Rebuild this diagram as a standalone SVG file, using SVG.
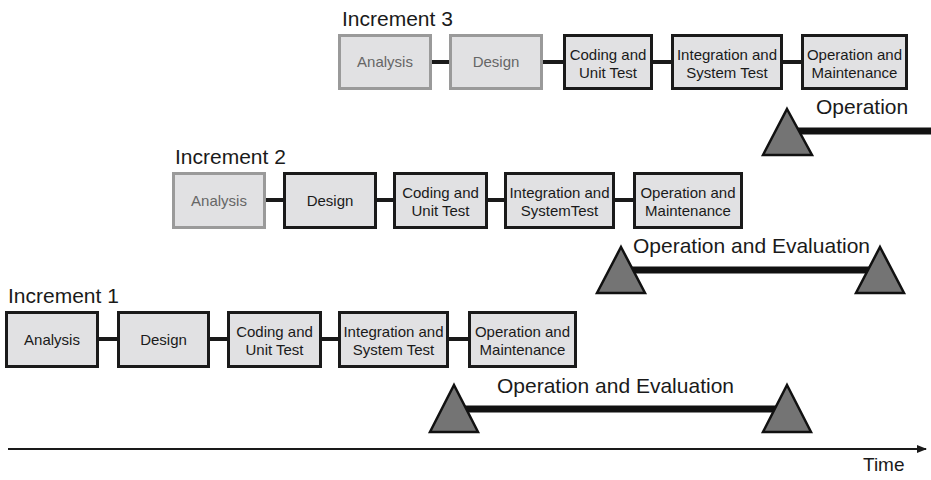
<svg xmlns="http://www.w3.org/2000/svg" width="931" height="480" viewBox="0 0 931 480">
<style>
text{font-family:"Liberation Sans",Arial,sans-serif;fill:#1a1a1a}
.lbl{font-size:21px}
.bt{font-size:15px;text-anchor:middle}
.box{fill:#e1e1e3;stroke:#1a1a1a;stroke-width:3}
.gbox{fill:#e1e1e3;stroke:#9a9a9a;stroke-width:3}
.gt{fill:#666}
.link{stroke:#1a1a1a;stroke-width:4}
.bar{stroke:#111;stroke-width:7}
.tri{fill:#747474;stroke:#111;stroke-width:2.5;stroke-linejoin:miter}
.axis{stroke:#1a1a1a;stroke-width:2}
</style>
<defs>
<marker id="arr" markerWidth="10" markerHeight="8" refX="9" refY="4" orient="auto" markerUnits="userSpaceOnUse">
<path d="M0,0 L10,4 L0,8 Z" fill="#1a1a1a"/>
</marker>
</defs>

<g id="connectors">
<line class="link" x1="432" y1="62" x2="449" y2="62"/>
<line class="link" x1="543" y1="62" x2="563" y2="62"/>
<line class="link" x1="653" y1="62" x2="671" y2="62"/>
<line class="link" x1="783" y1="62" x2="801" y2="62"/>
<line class="link" x1="266" y1="200" x2="283" y2="200"/>
<line class="link" x1="377" y1="200" x2="393" y2="200"/>
<line class="link" x1="488" y1="200" x2="504" y2="200"/>
<line class="link" x1="615" y1="200" x2="633" y2="200"/>
<line class="link" x1="99" y1="339" x2="117" y2="339"/>
<line class="link" x1="210" y1="339" x2="227" y2="339"/>
<line class="link" x1="322" y1="339" x2="338" y2="339"/>
<line class="link" x1="449" y1="339" x2="468" y2="339"/>
<line class="bar" x1="790" y1="131" x2="931" y2="131"/>
<line class="bar" x1="621" y1="270" x2="879" y2="270"/>
<line class="bar" x1="453" y1="409" x2="788" y2="409"/>
<line class="axis" x1="8" y1="449" x2="926" y2="449" marker-end="url(#arr)"/>
</g>

<g id="inc3">
<text class="lbl" x="342" y="26">Increment 3</text>
<g id="i3-analysis"><rect class="gbox" x="339.5" y="35.5" width="91" height="53"/><text class="bt gt" x="385" y="67">Analysis</text></g>
<g id="i3-design"><rect class="gbox" x="450.5" y="35.5" width="91" height="53"/><text class="bt gt" x="496" y="67">Design</text></g>
<g id="i3-coding"><rect class="box" x="564.5" y="35.5" width="87" height="53"/><text class="bt" x="608" y="60">Coding and</text><text class="bt" x="608" y="78">Unit Test</text></g>
<g id="i3-integration"><rect class="box" x="672.5" y="35.5" width="109" height="53"/><text class="bt" x="727" y="60">Integration and</text><text class="bt" x="727" y="78">System Test</text></g>
<g id="i3-operation"><rect class="box" x="802.5" y="35.5" width="104" height="53"/><text class="bt" x="854.5" y="60">Operation and</text><text class="bt" x="854.5" y="78">Maintenance</text></g>
<g id="i3-op"><text class="lbl" x="816" y="114">Operation</text><polygon class="tri" points="787,109 812,155 763,155"/></g>
</g>

<g id="inc2">
<text class="lbl" x="175" y="164">Increment 2</text>
<g id="i2-analysis"><rect class="gbox" x="173.5" y="173.5" width="91" height="54"/><text class="bt gt" x="219" y="206">Analysis</text></g>
<g id="i2-design"><rect class="box" x="284.5" y="173.5" width="91" height="54"/><text class="bt" x="330" y="206">Design</text></g>
<g id="i2-coding"><rect class="box" x="394.5" y="173.5" width="92" height="54"/><text class="bt" x="440.5" y="198">Coding and</text><text class="bt" x="440.5" y="216">Unit Test</text></g>
<g id="i2-integration"><rect class="box" x="505.5" y="173.5" width="108" height="54"/><text class="bt" x="559.5" y="198">Integration and</text><text class="bt" x="559.5" y="216">SystemTest</text></g>
<g id="i2-operation"><rect class="box" x="634.5" y="173.5" width="107" height="54"/><text class="bt" x="688" y="198">Operation and</text><text class="bt" x="688" y="216">Maintenance</text></g>
<g id="i2-op"><text class="lbl" x="633" y="253">Operation and Evaluation</text><polygon class="tri" points="621,247 645,293 597,293"/><polygon class="tri" points="880,247 904,293 856,293"/></g>
</g>

<g id="inc1">
<text class="lbl" x="8" y="303">Increment 1</text>
<g id="i1-analysis"><rect class="box" x="6.5" y="312.5" width="91" height="54"/><text class="bt" x="52" y="345">Analysis</text></g>
<g id="i1-design"><rect class="box" x="118.5" y="312.5" width="90" height="54"/><text class="bt" x="163.5" y="345">Design</text></g>
<g id="i1-coding"><rect class="box" x="228.5" y="312.5" width="92" height="54"/><text class="bt" x="274.5" y="337">Coding and</text><text class="bt" x="274.5" y="355">Unit Test</text></g>
<g id="i1-integration"><rect class="box" x="339.5" y="312.5" width="108" height="54"/><text class="bt" x="393.5" y="337">Integration and</text><text class="bt" x="393.5" y="355">System Test</text></g>
<g id="i1-operation"><rect class="box" x="469.5" y="312.5" width="106" height="54"/><text class="bt" x="522.5" y="337">Operation and</text><text class="bt" x="522.5" y="355">Maintenance</text></g>
<g id="i1-op"><text class="lbl" x="497" y="393">Operation and Evaluation</text><polygon class="tri" points="454,385 478,432 430,432"/><polygon class="tri" points="787,385 811,432 763,432"/></g>
</g>

<g id="time"><text x="863" y="471" style="font-size:19px">Time</text></g>
</svg>
